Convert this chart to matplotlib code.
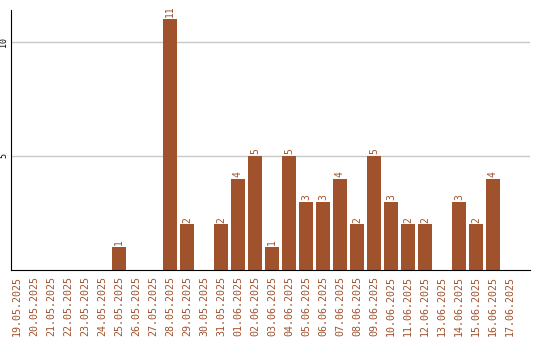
import matplotlib
matplotlib.use('Agg')
import matplotlib.pyplot as plt
import numpy as np

dates = ['19.05.2025', '20.05.2025', '21.05.2025', '22.05.2025', '23.05.2025',
         '24.05.2025', '25.05.2025', '26.05.2025', '27.05.2025', '28.05.2025',
         '29.05.2025', '30.05.2025', '31.05.2025', '01.06.2025', '02.06.2025',
         '03.06.2025', '04.06.2025', '05.06.2025', '06.06.2025', '07.06.2025',
         '08.06.2025', '09.06.2025', '10.06.2025', '11.06.2025', '12.06.2025',
         '13.06.2025', '14.06.2025', '15.06.2025', '16.06.2025', '17.06.2025']
counts = [0, 0, 0, 0, 0, 0, 1, 0, 0, 11, 2, 0, 2, 4, 5,
          1, 5, 3, 3, 4, 2, 5, 3, 2, 2, 0, 3, 2, 4, 0]
y_ticks = [5, 10]

bar_color = '#a0522d'
mono = 'DejaVu Sans Mono'

fig = plt.figure(figsize=(5.4, 3.4), dpi=100)
ax = fig.add_axes([11 / 540, 70 / 340, 519 / 540, 260 / 340])

x = np.arange(len(dates))
ax.bar(x, counts, width=0.82, color=bar_color, zorder=2)

for xi, val in zip(x, counts):
    if val > 0:
        ax.text(xi, val + 0.08, str(val), rotation=90, ha='center', va='bottom',
                color=bar_color, fontsize=7, family=mono)

ax.set_xlim(-0.35, 30.18)
ax.set_ylim(0, 11.4)
ax.set_xticks(x)
ax.set_xticklabels(dates, rotation=90, color=bar_color, fontsize=7.2,
                   family=mono)
ax.set_yticks(y_ticks)
ax.set_yticklabels([str(t) for t in y_ticks], rotation=90, va='center',
                   fontsize=6, family=mono)
ax.tick_params(axis='both', length=0)
ax.tick_params(axis='x', pad=4)
ax.tick_params(axis='y', pad=2)

ax.grid(axis='y', color='#c8c8c8', linewidth=1, zorder=0)
ax.spines['top'].set_visible(False)
ax.spines['right'].set_visible(False)
ax.spines['left'].set_color('black')
ax.spines['bottom'].set_color('black')

plt.savefig('out.png', dpi=100)
plt.close()
